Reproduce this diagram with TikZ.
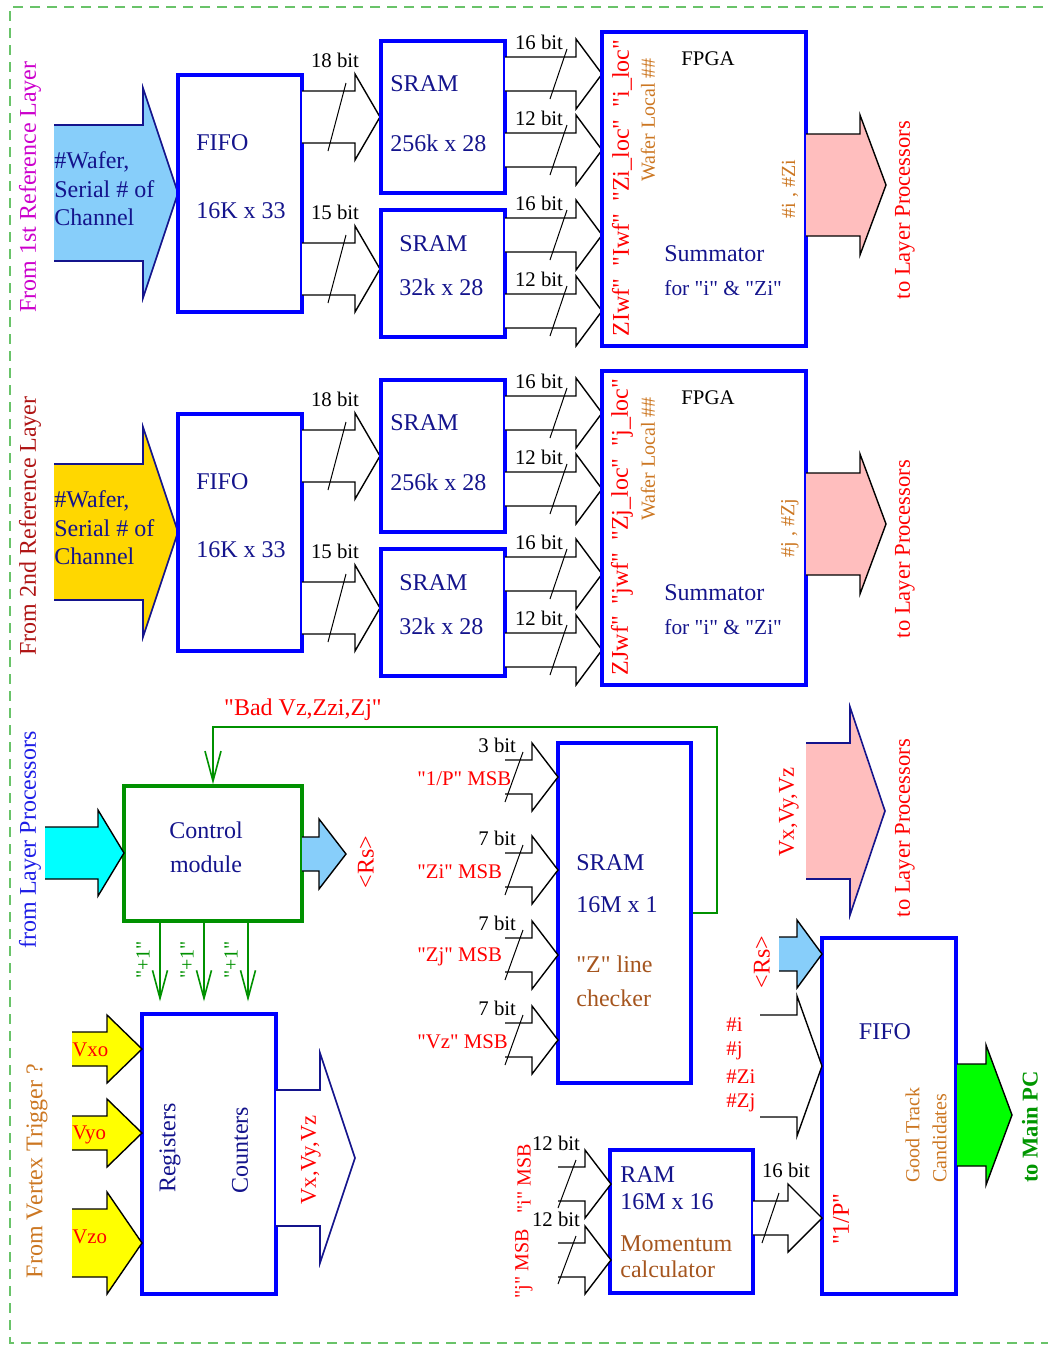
\documentclass[tikz,border=0pt]{standalone}
\usepackage{fontspec}
\setmainfont{Liberation Serif}[Ligatures=TeXOff]
\usetikzlibrary{positioning, arrows.meta}

\definecolor{boxblue}{RGB}{0,0,255}
\definecolor{txtnavy}{RGB}{20,20,140}
\definecolor{srcmag}{RGB}{204,0,204}
\definecolor{srcred}{RGB}{175,20,20}
\definecolor{procblue}{RGB}{30,30,230}
\definecolor{ochre}{RGB}{204,119,34}
\definecolor{sienna}{RGB}{165,85,30}
\definecolor{skyfill}{RGB}{135,206,250}
\definecolor{goldfill}{RGB}{255,215,0}
\definecolor{pinkfill}{RGB}{255,190,190}
\definecolor{cyanfill}{RGB}{0,255,255}
\definecolor{yellowfill}{RGB}{255,255,0}
\definecolor{greenfill}{RGB}{0,255,0}
\definecolor{ctrlgreen}{RGB}{0,145,0}
\definecolor{pcgreen}{RGB}{0,150,0}
\definecolor{bordergreen}{RGB}{105,195,105}

\newcommand{\bigfont}{\fontsize{12}{14.3}\selectfont}
\newcommand{\midfont}{\fontsize{11.3}{13.5}\selectfont}
\newcommand{\smallfont}{\fontsize{10.4}{13.5}\selectfont}

% block arrow: fill, outline, x start, x head, x tip, y middle, body half, head half
\newcommand{\blockarrow}[8]{
    \path[#1] (#3,#6-#7) -- (#4,#6-#7) -- (#4,#6-#8) -- (#5,#6) -- (#4,#6+#8) -- (#4,#6+#7) -- (#3,#6+#7) -- cycle;
    \draw[#2] (#3,#6-#7) -- (#4,#6-#7) -- (#4,#6-#8) -- (#5,#6) -- (#4,#6+#8) -- (#4,#6+#7) -- (#3,#6+#7);
}

\tikzset{
    blkbox/.style={draw=boxblue, line width=1.6pt, inner sep=0pt},
    ctrlbox/.style={draw=ctrlgreen, line width=1.8pt, inner sep=0pt},
    txt/.style={inner sep=0pt, text=txtnavy, font=\bigfont},
    bitlbl/.style={inner sep=0pt, font=\smallfont},
    redlbl/.style={inner sep=0pt, text=red, font=\smallfont},
    vtxt/.style={inner sep=0pt, rotate=90},
    hollow/.style={fill=white},
    outl/.style={draw=black, line width=0.7pt},
    navyoutl/.style={draw=txtnavy, line width=0.8pt},
    slash/.style={draw=black, line width=0.5pt},
    fback/.style={draw=ctrlgreen, line width=0.8pt},
    frame/.style={draw=bordergreen, line width=0.8pt, dash pattern=on 5pt off 3.5pt},
    vee/.style={-{Straight Barb[length=14pt, width=7.5pt]}}
}

\begin{document}
\begin{tikzpicture}[x=0.5pt, y=-0.5pt]
    \useasboundingbox (0,0) rectangle (1048,1345);

    % dashed frame
    \draw[frame] (1060,7) -- (10,7) -- (10,1343) -- (1060,1343);

    % the two reference layer chains
    \foreach \dy/\nth/\srccol/\srcfill/\lo/\up/\wf in {0/1st/srcmag/skyfill/i/I/Iwf, 339/2nd/srcred/goldfill/j/J/jwf} {
        \begin{scope}[shift={(0,\dy)}]
            \node[vtxt, text=\srccol, font=\bigfont] (src\nth) at (30,187) {From \nth\ Reference Layer};
            \blockarrow{fill=\srcfill}{navyoutl}{54}{143}{178}{193}{68}{105}
            \node[txt, anchor=west, align=left] (wafer\nth) at (54,189) {\#Wafer,\\Serial \# of\\Channel};

            % FIFO
            \node[blkbox, minimum width=62pt, minimum height=118.5pt] (fifo\nth) at (240,193.5) {};
            \node[txt, anchor=west] (fifoA\nth) at (196,143) {FIFO};
            \node[txt, anchor=west] (fifoB\nth) at (196,211) {16K x 33};

            \foreach \yy/\bits in {117/18, 269/15} {
                \blockarrow{hollow}{outl}{302}{355}{380}{\yy}{26}{43}
                \draw[slash] (346,\yy-34) -- (328,\yy+34);
                \node[bitlbl] (bus\nth\yy) at (335,\yy-57) {\bits\ bit};
            }

            % SRAMs
            \node[blkbox, minimum width=62pt, minimum height=76pt] (sramA\nth) at (443,117) {};
            \node[txt, anchor=west] (sramAa\nth) at (390,84) {SRAM};
            \node[txt, anchor=west] (sramAb\nth) at (390,143) {256k x 28};
            \node[blkbox, minimum width=62pt, minimum height=63.5pt] (sramB\nth) at (443,273.5) {};
            \node[txt, anchor=west] (sramBa\nth) at (399,244) {SRAM};
            \node[txt, anchor=west] (sramBb\nth) at (399,287) {32k x 28};

            \foreach \yy/\bits in {74/16, 150/12, 235/16, 311/12} {
                \blockarrow{hollow}{outl}{505}{576}{602}{\yy}{17}{35}
                \draw[slash] (567,\yy-25) -- (550,\yy+25);
                \node[bitlbl] (bus\nth\yy) at (539,\yy-32) {\bits\ bit};
            }

            % FPGA
            \node[blkbox, minimum width=102pt, minimum height=157pt] (fpga\nth) at (704,189) {};
            \node[bitlbl] (fpgaA\nth) at (708,59) {FPGA};
            \node[vtxt, text=red, font=\bigfont] (words\nth) at (622,188)
                {Z\up wf"\ \ "\wf"\ \ "Z\lo\_loc"\ \ "\lo\_loc"};
            \node[vtxt, text=ochre, font=\fontsize{10}{12}\selectfont] (local\nth) at (648,120) {Wafer Local \#\#};
            \node[vtxt, text=ochre, font=\fontsize{10}{12}\selectfont] (hits\nth) at (790,189) {\#\lo\ , \#Z\lo};
            \node[txt, anchor=west] (sumA\nth) at (664,254) {Summator};
            \node[txt, anchor=west, font=\fontsize{10.7}{13}\selectfont] (sumB\nth) at (664,288) {for "i" \& "Zi"};

            \blockarrow{fill=pinkfill}{outl}{806}{860}{886}{185}{51}{70}
            \node[vtxt, text=red, font=\midfont] (tolp\nth) at (905,210) {to Layer Processors};
        \end{scope}
    }

    % control module
    \node[ctrlbox, minimum width=89pt, minimum height=67.5pt] (ctrl) at (213,853.5) {};
    \node[txt] (ctrlA) at (206,830) {Control};
    \node[txt] (ctrlB) at (206,864) {module};
    \node[vtxt, text=procblue, font=\bigfont] (fromlp) at (30,840) {from Layer Processors};
    \blockarrow{fill=cyanfill}{outl}{45}{98}{124}{853}{26}{43}
    \blockarrow{fill=skyfill}{outl}{302}{319}{346}{854}{17}{35}
    \node[vtxt, text=red, font=\bigfont] (rsA) at (366,862) {<Rs>};

    % registers / counters
    \node[blkbox, minimum width=67pt, minimum height=140pt] (regs) at (209,1154) {};
    \node[vtxt, text=txtnavy, font=\bigfont] (regA) at (170,1148) {Registers};
    \node[vtxt, text=txtnavy, font=\bigfont] (regB) at (240,1150) {Counters};
    \node[vtxt, text=ochre, font=\bigfont] (vtxtrig) at (37,1171) {From Vertex Trigger ?};
    \foreach \yy/\bh/\hh/\nm/\ly in {1049/17/34/Vxo/1050, 1133/17/34/Vyo/1135, 1243/34/51/Vzo/1237} {
        \blockarrow{fill=yellowfill}{outl}{72}{107}{142}{\yy}{\bh}{\hh}
        \node[redlbl, anchor=west] (in\nm) at (72,\ly) {\nm};
    }
    \blockarrow{hollow}{navyoutl}{276}{320}{355}{1158}{68}{105}
    \node[vtxt, text=red, font=\midfont] (vxyzA) at (311,1160) {Vx,Vy,Vz};

    % "+1" lines
    \foreach \ax in {160,204,248} {
        \coordinate (plus\ax) at (\ax,0);
        \draw[fback, vee, shorten >=5.5pt] (ctrl.south -| plus\ax) -- (regs.north -| plus\ax);
        \node[vtxt, text=ctrlgreen, font=\fontsize{10}{12}\selectfont] (plusl\ax) at (\ax-17,960) {"+1"};
    }

    % Z line checker
    \node[blkbox, minimum width=66.5pt, minimum height=170pt] (chk) at (624.5,913) {};
    \node[txt, anchor=west] (chkA) at (576,863) {SRAM};
    \node[txt, anchor=west] (chkB) at (576,905) {16M x 1};
    \node[txt, anchor=west, text=sienna] (chkC) at (576,964) {"Z" line};
    \node[txt, anchor=west, text=sienna] (chkD) at (576,998) {checker};
    \foreach \yy/\bits/\src in {777/3/{"1/P"}, 870/7/{"Zi"}, 955/7/{"Zj"}, 1040/7/{"Vz"}} {
        \blockarrow{hollow}{outl}{505}{532}{558}{\yy}{17}{34}
        \draw[slash] (523,\yy-25) -- (505,\yy+25);
        \node[bitlbl, anchor=west] (chkbits\yy) at (478,\yy-32) {\bits\ bit};
        \node[redlbl, anchor=west] (chksrc\yy) at (417,\yy+2) {\src\ MSB};
    }

    % feedback line
    \coordinate (fbturn) at (717,727);
    \draw[fback, -{Straight Barb[length=15pt, width=8pt]}] (chk.east) -| (fbturn) -| (ctrl.north);
    \node[inner sep=0pt, text=red, font=\bigfont] (bad) at (303,710) {"Bad Vz,Zzi,Zj"};

    % vertex out to layer processors
    \blockarrow{fill=pinkfill}{navyoutl}{806}{850}{885}{811}{68}{104}
    \node[vtxt, text=red, font=\midfont] (vxyzB) at (789,812) {Vx,Vy,Vz};
    \node[vtxt, text=red, font=\midfont] (tolpC) at (905,828) {to Layer Processors};

    % momentum RAM
    \node[blkbox, minimum width=71.5pt, minimum height=71.5pt] (ram) at (681.5,1221.5) {};
    \node[txt, anchor=west] (ramA) at (620,1175) {RAM};
    \node[txt, anchor=west] (ramB) at (620,1202) {16M x 16};
    \node[txt, anchor=west, text=sienna] (ramC) at (620,1244) {Momentum};
    \node[txt, anchor=west, text=sienna] (ramD) at (620,1269) {calculator};
    \foreach \yy/\src/\sy in {1184/i/1179, 1260/j/1264} {
        \blockarrow{hollow}{outl}{558}{585}{611}{\yy}{17}{34}
        \draw[slash] (576,\yy-24) -- (558,\yy+24);
        \node[bitlbl] (rambits\src) at (556,\yy-41) {12 bit};
        \node[vtxt, text=red, font=\fontsize{10}{12}\selectfont] (ramsrc\src) at (524,\sy) {"\src" MSB};
    }

    % output FIFO
    \node[blkbox, minimum width=67pt, minimum height=178pt] (fifoC) at (889,1116) {};
    \node[txt] (fifoCa) at (885,1032) {FIFO};
    \node[vtxt, text=ochre, font=\fontsize{10}{13.5}\selectfont, align=left] (good) at (926,1135) {Good Track\\Candidates};
    \node[vtxt, text=red, font=\bigfont] (invp) at (841,1219) {"1/P"};
    \blockarrow{fill=skyfill}{outl}{779}{797}{822}{954}{17}{34}
    \node[vtxt, text=red, font=\bigfont] (rsB) at (762,962) {<Rs>};
    \blockarrow{hollow}{outl}{760}{797}{822}{1066}{51}{70}
    \foreach \yy/\nm in {1025/i, 1051/j, 1077/Zi, 1103/Zj} {
        \node[redlbl, anchor=west] (hit\nm) at (726,\yy) {\#\nm};
    }
    \blockarrow{hollow}{outl}{753}{788}{822}{1218}{17}{34}
    \draw[slash] (779,1193) -- (762,1243);
    \node[bitlbl] (pbits) at (786,1170) {16 bit};

    % to main PC
    \blockarrow{fill=greenfill}{outl}{957}{986}{1012}{1115}{51}{70}
    \node[vtxt, text=pcgreen, font=\midfont\bfseries] (mainpc) at (1030,1127) {to Main PC};
\end{tikzpicture}
\end{document}
